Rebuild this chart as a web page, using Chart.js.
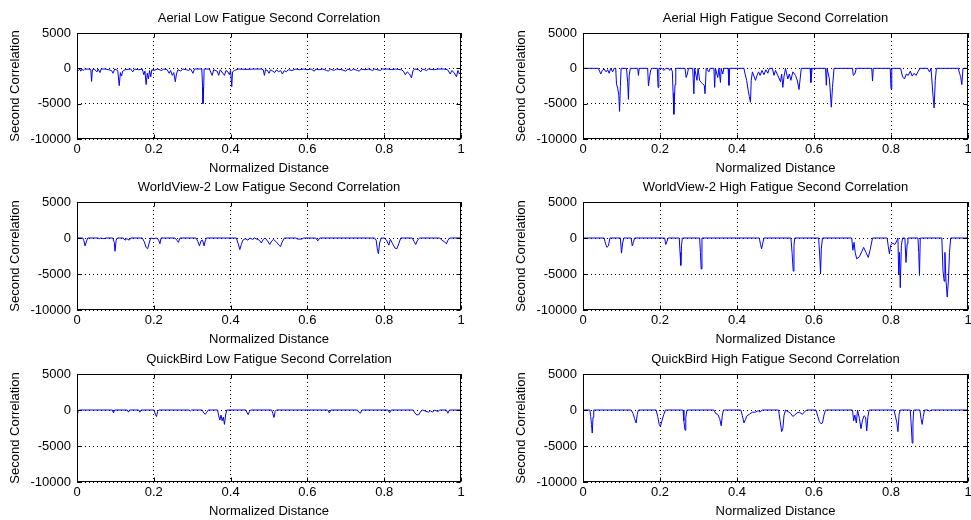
<!DOCTYPE html>
<html><head><meta charset="utf-8">
<script src="https://cdn.jsdelivr.net/npm/chart.js@4.4.1/dist/chart.umd.min.js"></script>
<style>
html,body{margin:0;padding:0;background:#fff;width:971px;height:520px;overflow:hidden;position:relative}
canvas{position:absolute;display:block}
</style></head><body>
<canvas id="c0"></canvas><canvas id="c1"></canvas>
<canvas id="c2"></canvas><canvas id="c3"></canvas>
<canvas id="c4"></canvas><canvas id="c5"></canvas>
<script>
// ---- tick values ----
const xTicks = [0, 0.2, 0.4, 0.6, 0.8, 1];
const yTicks = [-10000, -5000, 0, 5000];
const xTitle = 'Normalized Distance';
const yTitle = 'Second Correlation';

// ---- series: [normalized distance, second correlation] ----
const aerialLow = [[0,-100],[0.004,-300],[0.007,-100],[0.010,-400],[0.013,-100],[0.016,-300],[0.020,-100],[0.030,-100],[0.036,-200],[0.038,-1850],[0.040,-200],[0.045,-100],[0.052,-500],[0.055,-100],[0.060,-600],[0.063,-100],[0.075,-100],[0.090,-300],[0.094,-700],[0.098,-100],[0.106,-300],[0.110,-2450],[0.113,-600],[0.116,-1100],[0.119,-400],[0.125,-200],[0.140,-100],[0.145,-500],[0.150,-100],[0.160,-200],[0.170,-100],[0.174,-900],[0.177,-400],[0.180,-2300],[0.183,-700],[0.186,-1500],[0.189,-300],[0.192,-1200],[0.195,-200],[0.200,-300],[0.210,-100],[0.220,-300],[0.226,-100],[0.235,-200],[0.240,-700],[0.244,-300],[0.248,-1000],[0.252,-600],[0.256,-1900],[0.259,-800],[0.263,-200],[0.270,-400],[0.275,-100],[0.285,-200],[0.290,-300],[0.296,-100],[0.302,-700],[0.306,-100],[0.315,-100],[0.325,-100],[0.327,-2600],[0.328,-5000],[0.330,-2500],[0.331,-100],[0.345,-100],[0.352,-1000],[0.356,-200],[0.365,-400],[0.369,-1000],[0.373,-200],[0.380,-700],[0.384,-1000],[0.388,-300],[0.393,-500],[0.397,-900],[0.400,-300],[0.403,-2600],[0.405,-500],[0.410,-300],[0.420,-100],[0.440,-150],[0.460,-100],[0.480,-100],[0.485,-200],[0.488,-1000],[0.491,-200],[0.496,-300],[0.500,-700],[0.504,-200],[0.510,-400],[0.515,-600],[0.520,-200],[0.525,-500],[0.530,-300],[0.535,-800],[0.540,-300],[0.545,-500],[0.550,-200],[0.560,-300],[0.570,-100],[0.580,-200],[0.590,-100],[0.600,-200],[0.610,-100],[0.618,-400],[0.622,-100],[0.630,-200],[0.640,-100],[0.650,-300],[0.655,-400],[0.660,-100],[0.670,-300],[0.675,-100],[0.690,-200],[0.700,-400],[0.705,-100],[0.715,-300],[0.720,-100],[0.730,-300],[0.735,-400],[0.740,-100],[0.750,-200],[0.760,-100],[0.770,-300],[0.775,-100],[0.790,-300],[0.795,-100],[0.810,-100],[0.820,-200],[0.830,-100],[0.845,-200],[0.850,-400],[0.855,-900],[0.860,-500],[0.866,-800],[0.871,-1350],[0.875,-300],[0.880,-100],[0.890,-200],[0.895,-500],[0.900,-100],[0.910,-300],[0.915,-100],[0.930,-200],[0.940,-100],[0.955,-100],[0.965,-200],[0.972,-800],[0.976,-300],[0.982,-600],[0.988,-1200],[0.992,-300],[0.996,-800],[1.000,-500]];

const aerialHigh = [[0,0],[0.040,0],[0.043,-400],[0.046,-800],[0.050,-300],[0.055,-100],[0.060,-500],[0.064,-200],[0.068,-700],[0.072,0],[0.077,-500],[0.081,0],[0.085,0],[0.087,-2200],[0.090,-2800],[0.093,-3800],[0.095,-6100],[0.097,-2600],[0.099,0],[0.113,0],[0.116,-2000],[0.118,-4400],[0.120,-1000],[0.123,0],[0.142,0],[0.144,-1000],[0.146,0],[0.168,0],[0.170,-2500],[0.173,-1200],[0.176,-200],[0.180,0],[0.193,0],[0.195,-2700],[0.197,0],[0.205,0],[0.210,-300],[0.215,0],[0.222,0],[0.225,-300],[0.228,0],[0.232,-400],[0.234,-3500],[0.236,-6500],[0.239,-2300],[0.241,0],[0.265,0],[0.268,-1300],[0.271,-800],[0.274,0],[0.285,0],[0.288,-3600],[0.290,0],[0.296,-1700],[0.299,0],[0.303,-1700],[0.307,-2000],[0.311,-2200],[0.315,-2400],[0.317,-3600],[0.320,0],[0.327,-500],[0.330,0],[0.340,0],[0.342,-2700],[0.344,0],[0.350,-1300],[0.353,0],[0.357,-2000],[0.359,0],[0.363,-800],[0.366,0],[0.377,0],[0.379,-2400],[0.381,0],[0.418,0],[0.421,-800],[0.425,-1700],[0.429,-3100],[0.432,-4000],[0.435,-4800],[0.437,-1700],[0.440,-500],[0.448,-1700],[0.452,-1000],[0.456,-500],[0.460,-1000],[0.465,-300],[0.470,-900],[0.475,-200],[0.480,-700],[0.484,0],[0.492,0],[0.496,-1000],[0.500,-300],[0.506,-1000],[0.513,-1900],[0.516,-800],[0.519,-2700],[0.522,-1200],[0.526,0],[0.532,-1500],[0.536,-800],[0.540,-1700],[0.545,-500],[0.552,-1000],[0.557,-1800],[0.561,-3000],[0.564,-1500],[0.567,0],[0.590,0],[0.592,-2000],[0.595,0],[0.630,0],[0.632,-2400],[0.634,0],[0.640,-1500],[0.645,-5500],[0.648,-2700],[0.652,0],[0.700,0],[0.702,-1000],[0.706,-800],[0.710,0],[0.750,0],[0.752,-1800],[0.754,0],[0.798,0],[0.800,-2900],[0.802,0],[0.825,0],[0.830,-1200],[0.835,-1500],[0.840,-800],[0.845,-1000],[0.850,-400],[0.855,-1100],[0.860,-700],[0.865,-1000],[0.870,-500],[0.875,0],[0.895,0],[0.900,-500],[0.904,0],[0.909,-3800],[0.912,-5600],[0.915,-1700],[0.918,0],[0.975,0],[0.978,-700],[0.981,-1200],[0.984,-2300],[0.987,0],[1.000,0]];

const worldviewLow = [[0,0],[0.015,0],[0.018,-400],[0.021,-1100],[0.025,-400],[0.028,0],[0.055,0],[0.058,-100],[0.062,0],[0.070,-100],[0.075,0],[0.093,0],[0.097,-600],[0.099,-1850],[0.102,-300],[0.105,0],[0.120,0],[0.125,-300],[0.130,-100],[0.136,-300],[0.140,0],[0.170,0],[0.175,-500],[0.180,-1300],[0.184,-1500],[0.188,-700],[0.192,0],[0.200,-100],[0.206,0],[0.212,-200],[0.216,-800],[0.219,0],[0.255,0],[0.260,-300],[0.264,-600],[0.268,0],[0.310,0],[0.315,-500],[0.319,-1100],[0.323,-400],[0.327,-300],[0.331,-1100],[0.334,-400],[0.337,0],[0.415,0],[0.420,-800],[0.424,-1600],[0.428,-900],[0.432,-300],[0.438,-100],[0.445,-300],[0.450,0],[0.458,-200],[0.462,0],[0.475,-300],[0.480,-700],[0.485,-200],[0.490,0],[0.496,-400],[0.502,-900],[0.507,-400],[0.512,-200],[0.520,-600],[0.526,-1000],[0.530,-1200],[0.534,-600],[0.540,0],[0.570,0],[0.575,-150],[0.585,-150],[0.590,0],[0.622,0],[0.627,-400],[0.632,0],[0.775,0],[0.779,-300],[0.782,-1500],[0.785,-2200],[0.788,-700],[0.792,0],[0.800,0],[0.806,-300],[0.812,-1000],[0.816,-200],[0.822,-800],[0.828,-1400],[0.833,-1500],[0.838,-800],[0.843,0],[0.873,0],[0.878,-500],[0.882,-900],[0.887,-300],[0.892,0],[0.945,0],[0.950,-300],[0.956,-500],[0.962,-800],[0.966,-300],[0.970,0],[1.000,0]];

const worldviewHigh = [[0,0],[0.055,0],[0.058,-700],[0.062,-1300],[0.066,-1100],[0.070,0],[0.097,0],[0.100,-2100],[0.103,-700],[0.106,0],[0.125,0],[0.128,-1100],[0.131,-600],[0.134,0],[0.212,0],[0.215,-900],[0.218,-500],[0.221,0],[0.250,0],[0.252,-2000],[0.254,-3800],[0.256,-1000],[0.258,0],[0.303,0],[0.305,-2000],[0.307,-4300],[0.309,0],[0.458,0],[0.461,-900],[0.464,-1500],[0.467,-700],[0.470,0],[0.540,0],[0.543,-2000],[0.546,-4600],[0.548,-1000],[0.550,0],[0.612,0],[0.615,-2500],[0.617,-5000],[0.619,-1500],[0.622,0],[0.698,0],[0.701,-1700],[0.704,-600],[0.707,-2000],[0.711,-2900],[0.718,-2600],[0.724,-1900],[0.729,-1300],[0.735,-2000],[0.741,-2700],[0.746,-1600],[0.752,0],[0.790,0],[0.793,-1200],[0.796,-2200],[0.799,-1000],[0.804,-700],[0.810,-900],[0.815,-400],[0.818,0],[0.820,-5100],[0.822,-2000],[0.824,-6900],[0.827,-1000],[0.830,0],[0.836,0],[0.839,-3400],[0.842,-800],[0.844,0],[0.870,0],[0.872,-2000],[0.874,-5200],[0.876,0],[0.932,0],[0.935,-4500],[0.938,-6000],[0.940,-2000],[0.943,-6000],[0.946,-8200],[0.949,-6000],[0.952,-2000],[0.955,0],[1.000,0]];

const quickbirdLow = [[0,-900],[0.003,-200],[0.006,0],[0.092,0],[0.095,-400],[0.098,0],[0.131,0],[0.134,-300],[0.137,0],[0.161,0],[0.164,-300],[0.167,0],[0.201,0],[0.204,-600],[0.207,-900],[0.210,-200],[0.213,0],[0.292,0],[0.295,-150],[0.298,0],[0.326,0],[0.330,-400],[0.334,-600],[0.338,-300],[0.342,0],[0.366,0],[0.369,-800],[0.372,-1400],[0.375,-700],[0.378,-1500],[0.381,-1000],[0.384,-2000],[0.387,-700],[0.390,0],[0.440,0],[0.443,-400],[0.446,-650],[0.449,-200],[0.452,0],[0.507,0],[0.510,-500],[0.513,-1050],[0.516,-200],[0.519,0],[0.653,0],[0.657,-400],[0.661,0],[0.730,0],[0.734,-300],[0.738,-450],[0.742,0],[0.810,0],[0.814,-400],[0.818,0],[0.875,0],[0.880,-400],[0.885,-700],[0.890,-650],[0.895,-200],[0.900,0],[0.915,-300],[0.920,-100],[0.926,-300],[0.931,0],[0.940,-200],[0.945,0],[0.962,0],[0.966,-450],[0.970,0],[1.000,0]];

const quickbirdHigh = [[0,0],[0.018,0],[0.020,-900],[0.022,-2000],[0.024,-3200],[0.026,-1000],[0.028,0],[0.125,0],[0.130,-500],[0.134,-1200],[0.138,-1800],[0.141,-600],[0.144,0],[0.190,0],[0.194,-900],[0.198,-2000],[0.201,-2300],[0.205,-1500],[0.210,-600],[0.214,0],[0.260,0],[0.262,-1500],[0.265,-2800],[0.267,-1000],[0.270,0],[0.340,0],[0.345,-500],[0.350,-600],[0.355,-1200],[0.359,-2200],[0.362,-700],[0.365,0],[0.410,0],[0.414,-800],[0.418,-1800],[0.422,-1300],[0.426,-800],[0.432,-600],[0.440,-300],[0.448,-300],[0.455,-100],[0.460,-300],[0.465,0],[0.508,0],[0.512,-1500],[0.516,-3000],[0.519,-2600],[0.522,-800],[0.526,0],[0.535,-300],[0.540,-500],[0.545,-900],[0.550,-700],[0.556,-400],[0.562,-300],[0.570,-600],[0.576,-200],[0.582,0],[0.605,0],[0.610,-900],[0.614,-1600],[0.618,-1900],[0.622,-1800],[0.626,-700],[0.630,0],[0.700,0],[0.703,-1500],[0.706,-700],[0.710,-1800],[0.713,0],[0.718,-1200],[0.722,-2600],[0.726,-1400],[0.730,-800],[0.734,-1000],[0.737,-2900],[0.740,-1000],[0.743,0],[0.808,0],[0.812,-1000],[0.815,-1700],[0.818,-3000],[0.821,-600],[0.824,0],[0.850,0],[0.853,-2500],[0.855,-4600],[0.857,-1800],[0.859,0],[0.875,0],[0.878,-1200],[0.881,-2000],[0.884,-900],[0.887,0],[0.895,0],[0.900,-150],[0.905,0],[1.000,0]];

const panelTitles = [
  'Aerial Low Fatigue Second Correlation', 'Aerial High Fatigue Second Correlation',
  'WorldView-2 Low Fatigue Second Correlation', 'WorldView-2 High Fatigue Second Correlation',
  'QuickBird Low Fatigue Second Correlation', 'QuickBird High Fatigue Second Correlation'
];
const panelSeries = [aerialLow, aerialHigh, worldviewLow, worldviewHigh, quickbirdLow, quickbirdHigh];

// ---- layout (pixels) ----
const colLeft = [0, 506], colWidth = [480, 465], colPadRight = [19, 3];
const rowPlotTop = [33, 202, 374], rowPlotH = [106, 108, 108];
const TITLE_H = 33, XAXIS_H = 40, YAXIS_W = 77;
const FONT = "'Liberation Sans', Arial, Helvetica, sans-serif";

const boxPlugin = {
  id: 'matlabBox',
  afterDraw(chart) {
    const {ctx, chartArea: a, scales: {x, y}} = chart;
    const L = Math.round(a.left) + 0.5, R = Math.round(a.right) - 0.5;
    const T = Math.round(a.top) + 0.5, B = Math.round(a.bottom) - 0.5;
    ctx.save();
    ctx.strokeStyle = '#000'; ctx.lineWidth = 1; ctx.setLineDash([]);
    ctx.strokeRect(L, T, R - L, B - T);
    ctx.beginPath();
    xTicks.forEach(v => {
      const p = Math.round(x.getPixelForValue(v)) + 0.5;
      ctx.moveTo(p, B); ctx.lineTo(p, B - 4);
      ctx.moveTo(p, T); ctx.lineTo(p, T + 4);
    });
    yTicks.forEach(v => {
      const p = Math.round(y.getPixelForValue(v)) + 0.5;
      ctx.moveTo(L, p); ctx.lineTo(L + 4, p);
      ctx.moveTo(R, p); ctx.lineTo(R - 4, p);
    });
    ctx.stroke();
    ctx.restore();
  }
};

panelSeries.forEach((series, i) => {
  const col = i % 2, row = Math.floor(i / 2);
  const cv = document.getElementById('c' + i);
  const w = colWidth[col], h = TITLE_H + rowPlotH[row] + XAXIS_H;
  cv.width = w; cv.height = h;
  cv.style.left = colLeft[col] + 'px';
  cv.style.top = (rowPlotTop[row] - TITLE_H) + 'px';
  cv.style.width = w + 'px'; cv.style.height = h + 'px';
  new Chart(cv, {
    type: 'line',
    data: { datasets: [{
      data: series.map(p => ({x: p[0], y: p[1]})),
      borderColor: '#0000ff', borderWidth: 1, pointRadius: 0, tension: 0, fill: false
    }]},
    options: {
      responsive: false, animation: false, events: [],
      layout: { padding: { left: 0, right: colPadRight[col], top: 0, bottom: 0 } },
      plugins: {
        legend: { display: false }, tooltip: { enabled: false },
        title: { display: true, text: panelTitles[i], fullSize: false, color: '#000',
          font: { family: FONT, size: 13, weight: 'normal' }, padding: { top: 10.5, bottom: 6.9 } }
      },
      scales: {
        x: {
          type: 'linear', min: 0, max: 1,
          afterBuildTicks: s => { s.ticks = xTicks.map(v => ({value: v})); },
          afterFit: s => { s.height = XAXIS_H; s.paddingLeft = 0; s.paddingRight = 0; },
          grid: { color: '#000', lineWidth: 1, drawTicks: false },
          border: { display: false, dash: [1, 3] },
          ticks: { color: '#000', padding: 3, maxRotation: 0, autoSkip: false,
            font: { family: FONT, size: 13 }, callback: v => String(v) },
          title: { display: true, text: xTitle, color: '#000',
            font: { family: FONT, size: 13 }, padding: { top: 0, bottom: 3.2 } }
        },
        y: {
          type: 'linear', min: -10000, max: 5000,
          afterBuildTicks: s => { s.ticks = yTicks.map(v => ({value: v})); },
          afterFit: s => { s.width = YAXIS_W; s.paddingTop = 0; s.paddingBottom = 0; },
          grid: { color: '#000', lineWidth: 1, drawTicks: false },
          border: { display: false, dash: [1, 3] },
          ticks: { color: '#000', padding: 6, autoSkip: false,
            font: { family: FONT, size: 13 }, callback: v => String(v) },
          title: { display: true, text: yTitle, color: '#000',
            font: { family: FONT, size: 13 }, padding: { top: 8, bottom: 0 } }
        }
      }
    },
    plugins: [boxPlugin]
  });
});
</script>
</body></html>
